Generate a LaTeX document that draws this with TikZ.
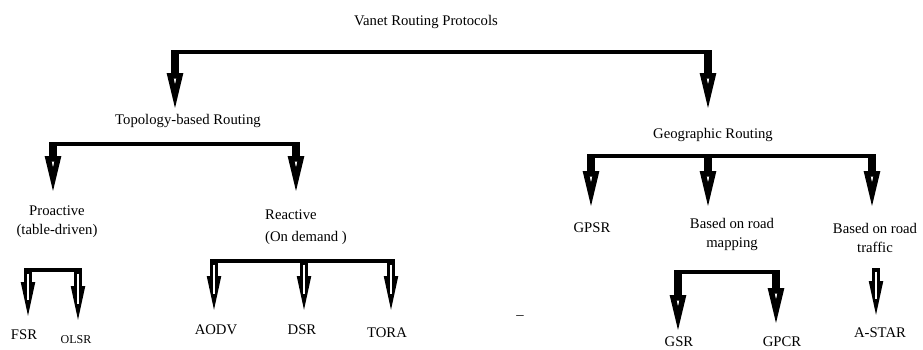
\documentclass[tikz,border=0pt]{standalone}
\usepackage{fontspec}
\setmainfont{Liberation Serif}
\usetikzlibrary{arrows.meta}

\tikzset{
  bar/.style={line width=4.5pt,shorten <=-4pt,shorten >=-4pt},
  drop/.style={line width=8pt,shorten >=#1,
    -{Triangle[open,length=37pt,width=15pt,line width=5.5pt]}},
  hollow/.style={line width=7.5pt,shorten >=#1,
    -{Triangle[open,length=36pt,width=13pt,line width=5pt]},
    postaction={draw=white,line width=1.3pt,-,shorten <=3.5pt,shorten >=#1+18pt}},
}

\begin{document}
\begin{tikzpicture}[x=1pt,y=-1pt,every node/.style={anchor=north,inner sep=0pt,align=center},
  font=\fontsize{14.7}{19}\selectfont]
  \useasboundingbox (0,0) rectangle (923,349);
  \node (title) at (426,15) {Vanet Routing Protocols};
  % first split
  \coordinate (t1) at (175,52); \coordinate (t2) at (708,52);
  \draw[bar] (t1) -- (t2);
  \node (topo) at (188,114) {Topology-based Routing};
  \node (geo) at (713,128) {Geographic Routing};
  \draw[drop=4pt] (t1) -- (t1 |- topo.north);
  \draw[drop=18pt] (t2) -- (t2 |- geo.north);
  % topology based
  \coordinate (p1) at (53,144); \coordinate (p2) at (296,144);
  \draw[bar] (p1) -- (p2);
  \node (pro) at (57,206) {Proactive\\(table-driven)};
  \node[align=left,anchor=north west] (rea) at (265,210) {Reactive\\[3pt](On demand )};
  \draw[drop=13pt] (p1) -- (p1 |- pro.north);
  \draw[drop=17pt] (p2) -- (p2 |- rea.north);
  % geographic
  \coordinate (g1) at (591,156); \coordinate (g2) at (708,156); \coordinate (g3) at (872,156);
  \draw[bar] (g1) -- (g3);
  \node (gpsr) at (592,223) {GPSR};
  \node (map) at (732,218) {Based on road\\mapping};
  \node (traf) at (875,223) {Based on road\\traffic};
  \draw[drop=15pt] (g1) -- (g1 |- gpsr.north);
  \draw[drop=10pt] (g2) -- (g2 |- map.north);
  \draw[drop=15pt] (g3) -- (g3 |- traf.north);
  % proactive
  \coordinate (f1) at (28,270); \coordinate (f2) at (78,270);
  \draw[bar] (f1) -- (f2);
  \node (fsr) at (24,330) {FSR};
  \node[font=\fontsize{12}{14}\selectfont] (olsr) at (76,335) {OLSR};
  \draw[hollow=12pt] (f1) -- (f1 |- fsr.north);
  \draw[hollow=13pt] (f2) -- (f2 |- olsr.north);
  % reactive
  \coordinate (r1) at (214,261); \coordinate (r2) at (304,261); \coordinate (r3) at (391,261);
  \draw[bar] (r1) -- (r3);
  \node (aodv) at (216,325) {AODV};
  \node (dsr) at (302,325) {DSR};
  \node (tora) at (387,328) {TORA};
  \draw[hollow=13pt] (r1) -- (r1 |- aodv.north);
  \draw[hollow=13pt] (r2) -- (r2 |- dsr.north);
  \draw[hollow=16pt] (r3) -- (r3 |- tora.north);
  \node (dash) at (520,316) {–};
  % road mapping
  \coordinate (m1) at (678,272); \coordinate (m2) at (776,272);
  \draw[bar] (m1) -- (m2);
  \node (gsr) at (679,337) {GSR};
  \node (gpcr) at (782,337) {GPCR};
  \draw[drop=5pt] (m1) -- (m1 |- gsr.north);
  \draw[drop=12pt] (m2) -- (m2 |- gpcr.north);
  % road traffic
  \coordinate (s1) at (876,268);
  \node (astar) at (880,328) {A-STAR};
  \draw[hollow=11pt] (s1) -- (s1 |- astar.north);
\end{tikzpicture}
\end{document}
